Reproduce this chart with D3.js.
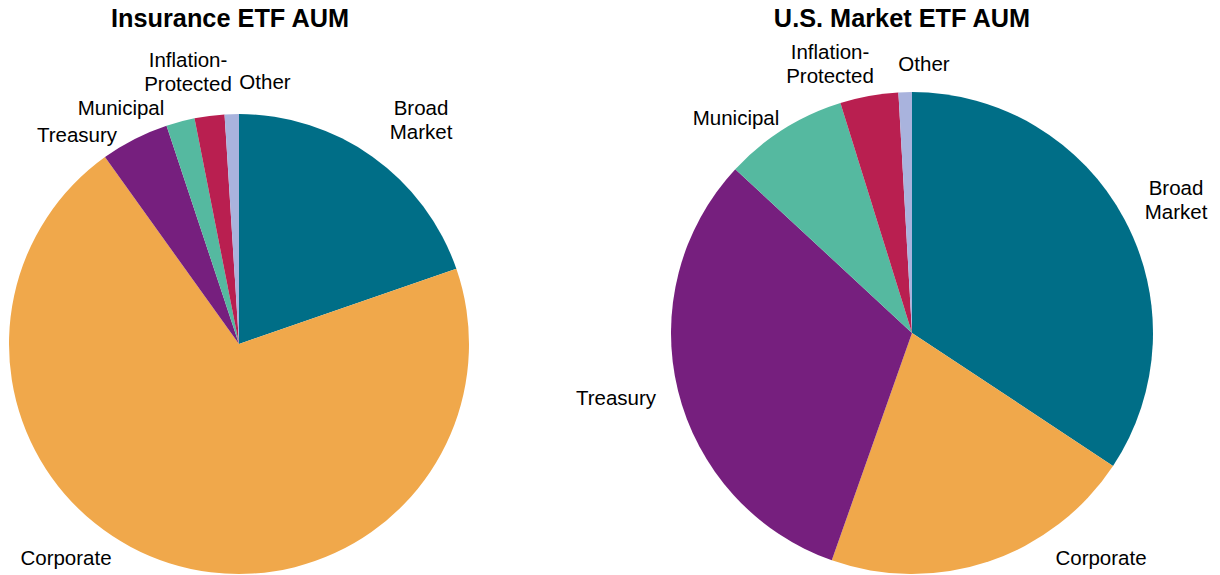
<!DOCTYPE html>
<html>
<head>
<meta charset="utf-8">
<script src="https://cdn.jsdelivr.net/npm/d3@7"></script>
<style>
  body { margin: 0; background: #fff; }
  svg text { font-family: "Liberation Sans", Arial, sans-serif; fill: #000; }
</style>
</head>
<body>
<div id="chart"></div>
<script>
// categories and series (percent of AUM)
var categories = ["Broad Market", "Corporate", "Treasury", "Municipal", "Inflation-Protected", "Other"];
var insuranceValues = [19.7, 70.4, 4.8, 2.0, 2.1, 1.0];
var marketValues = [34.3, 21.1, 31.5, 8.3, 3.9, 0.9];
var titles = ["Insurance ETF AUM", "U.S. Market ETF AUM"];
// label text split into lines
var labelLines = [["Broad", "Market"], ["Corporate"], ["Treasury"], ["Municipal"], ["Inflation-", "Protected"], ["Other"]];

var width = 1220, height = 575;

var color = d3.scaleOrdinal()
  .domain(categories)
  .range(["#006e87", "#f0a84b", "#761f7e", "#55b9a0", "#b91f50", "#a9b3dd"]);

// layout of the two pies; label offsets are relative to the pie centre
var pies = [
  { title: titles[0], values: insuranceValues, cx: 239, cy: 344, r: 230, titleX: 230,
    labels: [[182, -236], [-173, 214], [-162, -209], [-118, -236], [-51, -284], [26, -262]] },
  { title: titles[1], values: marketValues, cx: 912, cy: 333, r: 241, titleX: 902,
    labels: [[264, -145], [189, 225], [-296, 65], [-176, -215], [-82, -281], [12, -269]] }
];

var svg = d3.select("#chart").append("svg")
  .attr("width", width)
  .attr("height", height);

var pie = d3.pie().sort(null).value(function(d) { return d.value; });

pies.forEach(function(p) {
  var data = categories.map(function(c, i) { return { name: c, value: p.values[i], idx: i }; });
  var arc = d3.arc().innerRadius(0).outerRadius(p.r);

  var g = svg.append("g")
    .attr("transform", "translate(" + p.cx + "," + p.cy + ")");

  g.selectAll("path")
    .data(pie(data))
    .enter().append("path")
    .attr("d", arc)
    .style("fill", function(d) { return color(d.data.name); });

  // labels
  var lab = g.selectAll(".lab")
    .data(data)
    .enter().append("text")
    .attr("class", "lab")
    .attr("text-anchor", "middle")
    .style("font-size", "20.5px")
    .attr("transform", function(d) {
      return "translate(" + p.labels[d.idx][0] + "," + p.labels[d.idx][1] + ")";
    });

  lab.selectAll("tspan")
    .data(function(d) { return labelLines[d.idx]; })
    .enter().append("tspan")
    .attr("x", 0)
    .attr("y", function(d, i) { return i * 24 + 7; })
    .text(function(d) { return d; });

  svg.append("text")
    .attr("x", p.titleX)
    .attr("y", 27)
    .attr("text-anchor", "middle")
    .style("font-size", "25.3px")
    .style("font-weight", "bold")
    .text(p.title);
});
</script>
</body>
</html>
